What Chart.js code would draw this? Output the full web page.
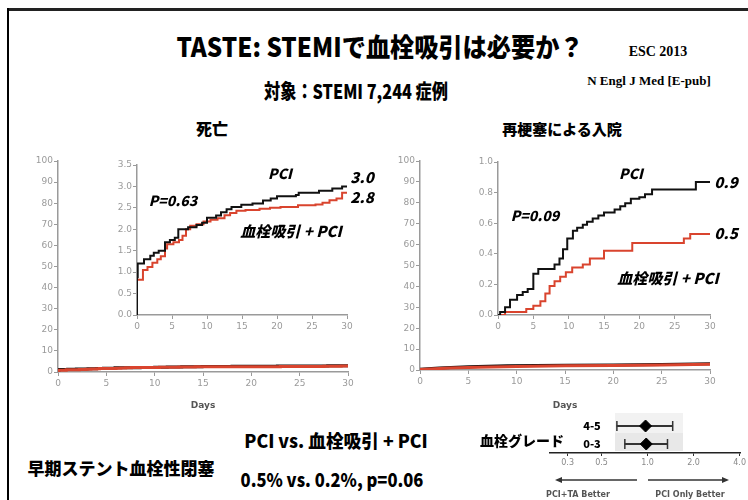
<!DOCTYPE html>
<html><head><meta charset="utf-8">
<script src="https://cdn.jsdelivr.net/npm/chart.js@4.4.1/dist/chart.umd.min.js"></script>
<style>
body{margin:0;background:#fff;}
#slide{position:relative;width:748px;height:500px;overflow:hidden;background:#fff;font-family:'Noto Sans CJK JP',sans-serif;}
.t{position:absolute;white-space:nowrap;transform:translate(-50%,-50%);font-weight:900;color:#000;line-height:1;}
.i{font-style:italic;}
.serif{font-family:'Liberation Serif',serif;font-weight:700;}
canvas{position:absolute;}
.bg{position:absolute;}
</style>
</head><body>
<div id="slide">
  <div class="bg" style="left:8px;top:8px;width:740px;height:3px;background:#222;"></div>
  <div class="bg" style="left:7px;top:8px;width:2px;height:492px;background:#000;"></div>

  <div class="t" style="left:380px;top:46px;font-size:26px;transform:translate(-50%,-50%) scaleX(0.93);">TASTE: STEMIで血栓吸引は必要か？</div>
  <div class="t serif" style="left:658px;top:52px;font-size:14px;">ESC 2013</div>
  <div class="t serif" style="left:649px;top:80px;font-size:13px;">N Engl J Med [E-pub]</div>
  <div class="t" style="left:356px;top:91px;font-size:20px;transform:translate(-50%,-50%) scaleX(0.81);">対象：STEMI 7,244 症例</div>
  <div class="t" style="left:212px;top:128px;font-size:16px;">死亡</div>
  <div class="t" style="left:562px;top:128px;font-size:15px;">再梗塞による入院</div>

  <div class="bg" style="left:615px;top:413px;width:68px;height:20px;background:#f2f2f2;"></div>
  <div class="bg" style="left:615px;top:433px;width:68px;height:18px;background:#e8e8e8;"></div>

  <canvas id="mortMain" width="345" height="265" style="left:20px;top:150px;"></canvas>
  <canvas id="mortInset" width="250" height="185" style="left:105px;top:155px;"></canvas>
  <canvas id="reinfMain" width="345" height="265" style="left:382px;top:150px;"></canvas>
  <canvas id="reinfInset" width="252" height="188" style="left:466px;top:152px;"></canvas>
  <canvas id="forest" width="208" height="62" style="left:540px;top:410px;"></canvas>

  <div class="t i" style="left:280px;top:173px;font-size:14px;">PCI</div>
  <div class="t i" style="left:362px;top:176px;font-size:15px;">3.0</div>
  <div class="t i" style="left:362px;top:196px;font-size:15px;">2.8</div>
  <div class="t i" style="left:173px;top:200px;font-size:14px;">P=0.63</div>
  <div class="t i" style="left:291px;top:230px;font-size:15px;">血栓吸引 + PCI</div>

  <div class="t i" style="left:631px;top:173px;font-size:14px;">PCI</div>
  <div class="t i" style="left:726px;top:181px;font-size:15px;">0.9</div>
  <div class="t i" style="left:726px;top:232px;font-size:15px;">0.5</div>
  <div class="t i" style="left:535px;top:215px;font-size:14px;">P=0.09</div>
  <div class="t i" style="left:668px;top:277px;font-size:15px;">血栓吸引 + PCI</div>

  <div class="t" style="left:121px;top:467px;font-size:17px;">早期ステント血栓性閉塞</div>
  <div class="t" style="left:336px;top:440px;font-size:18px;transform:translate(-50%,-50%) scaleX(0.98);">PCI vs. 血栓吸引 + PCI</div>
  <div class="t" style="left:332px;top:478px;font-size:19px;transform:translate(-50%,-50%) scaleX(0.87);">0.5% vs. 0.2%, p=0.06</div>
  <div class="t" style="left:522px;top:440px;font-size:14px;">血栓グレード</div>
  <div id="rowLabels"></div>

  <svg style="position:absolute;left:0;top:0;" width="748" height="500">
    <line x1="637" y1="480" x2="560" y2="480" stroke="#333" stroke-width="1.5"/>
    <polygon points="555,480 562,477 562,483" fill="#333"/>
    <line x1="648" y1="480" x2="724" y2="480" stroke="#333" stroke-width="1.5"/>
    <polygon points="729,480 722,477 722,483" fill="#333"/>
  </svg>
  <div class="t" style="left:578px;top:495px;font-size:8px;font-weight:700;color:#555;font-family:'DejaVu Sans';">PCI+TA Better</div>
  <div class="t" style="left:690px;top:495px;font-size:8px;font-weight:700;color:#555;font-family:'DejaVu Sans';">PCI Only Better</div>
</div>
<script>
// axis ticks
const dayTicks=[0,5,10,15,20,25,30];
const pctTicks=[0,10,20,30,40,50,60,70,80,90,100];
const mortTicks=[0,0.5,1.0,1.5,2.0,2.5,3.0,3.5];
const reinfTicks=[0,0.2,0.4,0.6,0.8,1.0];
const forestTicks=[0.3,0.5,1.0,2.0,4.0];

// cumulative mortality (%), day vs value
const mortPCI=[[0,0],[0,0.88],[0.1,1.2],[1,1.3],[1.9,1.38],[2.4,1.45],[3.1,1.5],[4,1.7],[4.7,1.75],[5.4,1.8],[5.9,2.0],[7.3,2.05],[8.5,2.1],[9.3,2.15],[10,2.27],[11.3,2.32],[12,2.4],[12.8,2.47],[13.5,2.52],[14.9,2.57],[16.5,2.6],[18,2.67],[19.1,2.72],[20,2.77],[22.7,2.8],[23.1,2.85],[26,2.9],[27.9,2.95],[29.3,3.0],[30,3.02]];
const mortTA=[[0,0],[0,0.82],[0.85,1.05],[1.5,1.12],[2.2,1.22],[2.9,1.3],[3.4,1.37],[4,1.55],[4.3,1.65],[5.2,1.7],[6,1.75],[6.5,1.85],[7,2.0],[7.6,2.08],[8.5,2.12],[9.5,2.18],[10.5,2.22],[11.5,2.26],[12.5,2.33],[13.3,2.38],[14.2,2.43],[15.5,2.45],[17.5,2.48],[19,2.5],[20.5,2.52],[23,2.56],[25.5,2.58],[26.5,2.62],[27.5,2.68],[28.5,2.72],[29.3,2.85],[30,2.85]];

// rehospitalisation for reinfarction (%), inset
const reinfPCI=[[0,0],[0.3,0.02],[1,0.05],[1.7,0.1],[2.7,0.13],[3.5,0.15],[4.2,0.17],[5,0.27],[5.7,0.3],[8,0.33],[8.7,0.37],[9.2,0.43],[9.8,0.5],[10.6,0.55],[11.2,0.57],[12,0.59],[12.6,0.61],[13.4,0.63],[14.2,0.65],[15,0.67],[16.5,0.69],[17.3,0.71],[18,0.73],[18.8,0.76],[20,0.77],[20.8,0.79],[21.8,0.82],[28,0.87],[30,0.87]];
const reinfTA=[[0,0],[1,0.02],[4,0.04],[5,0.06],[6,0.09],[6.7,0.14],[7.3,0.19],[8,0.22],[8.8,0.25],[9.6,0.28],[10.5,0.31],[12,0.33],[13,0.37],[15,0.42],[19,0.47],[26.3,0.5],[27.2,0.53],[30,0.53]];
// full-scale curves of the right main panel
const reinfMainPCI=[[0,0.3],[2,1.0],[5,1.5],[9,2.0],[15,2.3],[20,2.4],[25,2.6],[30,3.0]];
const reinfMainTA=[[0,0.2],[3,0.9],[6,1.3],[10,1.7],[15,2.0],[20,2.2],[25,2.4],[30,2.7]];

// thrombus grade subgroups (hazard ratio, 95% CI)
const rows=['4-5','0-3'];
const hr=[0.97,0.98];
const ciLow=[0.63,0.71];
const ciHigh=[1.46,1.35];

const BLACK='#111', RED='#d9442e', AX='#9a9a9a', TK='#9a9a9a';
const pts=a=>a.map(([x,y])=>({x,y}));

// first series in the list is painted on top
function kmChart(id,o){
  new Chart(document.getElementById(id),{
    type:'line',
    data:{datasets:o.series.map(s=>({data:pts(s.data),borderColor:s.color,borderWidth:o.lw,
      stepped:o.stepped?'before':false,pointRadius:0,fill:false,tension:0}))},
    options:{responsive:false,animation:false,events:[],
      layout:{padding:{left:0,top:o.padT,right:o.padR,bottom:0}},
      plugins:{legend:{display:false},tooltip:{enabled:false}},
      scales:{
        x:{type:'linear',min:0,max:30,
          afterBuildTicks:s=>{s.ticks=dayTicks.map(v=>({value:v}));},
          afterFit:s=>{s.height=o.xH;},
          grid:{drawOnChartArea:false,tickLength:4,color:AX},
          border:{color:AX,width:1.5},
          ticks:{color:TK,font:{family:'DejaVu Sans',size:9},padding:2,maxRotation:0},
          title:{display:!!o.xTitle,text:o.xTitle,color:'#555',font:{family:'DejaVu Sans',size:9,weight:'bold'},padding:{top:4,bottom:4}}},
        y:{type:'linear',min:0,max:o.yMax,
          afterBuildTicks:s=>{s.ticks=o.yTicks.map(v=>({value:v}));},
          afterFit:s=>{s.width=o.yW;},
          grid:{drawOnChartArea:false,tickLength:4,color:AX},
          border:{color:AX,width:1.5},
          ticks:{color:TK,font:{family:'DejaVu Sans',size:9},padding:1,callback:v=>o.dec?v.toFixed(o.dec):v}}
      }}
  });
}

kmChart('mortMain',{series:[{data:mortTA,color:RED},{data:mortPCI,color:BLACK}],lw:3,stepped:true,
  padT:11,padR:17,xH:43,yW:38,yMax:100,yTicks:pctTicks,dec:0,xTitle:'Days'});
kmChart('mortInset',{series:[{data:mortPCI,color:BLACK},{data:mortTA,color:RED}],lw:2,stepped:true,
  padT:10,padR:8,xH:25,yW:32,yMax:3.5,yTicks:mortTicks,dec:1});
kmChart('reinfMain',{series:[{data:reinfMainTA,color:RED},{data:reinfMainPCI,color:BLACK}],lw:3,stepped:false,
  padT:11,padR:17,xH:45,yW:38,yMax:100,yTicks:pctTicks,dec:0,xTitle:'Days'});
kmChart('reinfInset',{series:[{data:reinfPCI,color:BLACK},{data:reinfTA,color:RED}],lw:2,stepped:true,
  padT:10,padR:8,xH:25,yW:32,yMax:1.0,yTicks:reinfTicks,dec:1});

// forest plot
document.getElementById('rowLabels').innerHTML=rows.map((r,i)=>
  `<div class="t" style="left:592px;top:${425+i*18}px;font-size:11px;">${r}</div>`).join('');
new Chart(document.getElementById('forest'),{
  data:{labels:rows,datasets:[
    {type:'line',indexAxis:'y',showLine:false,data:rows.map((r,i)=>({x:hr[i],y:r})),
      pointStyle:'rectRot',pointRadius:6,backgroundColor:'#000',borderColor:'#000'},
    {type:'line',indexAxis:'y',showLine:false,data:rows.flatMap((r,i)=>[{x:ciLow[i],y:r},{x:ciHigh[i],y:r}]),
      pointStyle:'line',rotation:90,pointRadius:5,borderColor:'#333',borderWidth:1.5},
    {type:'bar',indexAxis:'y',data:rows.map((r,i)=>[ciLow[i],ciHigh[i]]),backgroundColor:'#333',barThickness:1.5}
  ]},
  options:{responsive:false,animation:false,events:[],
    layout:{padding:{left:10,top:5,right:6,bottom:0}},
    plugins:{legend:{display:false},tooltip:{enabled:false}},
    scales:{
      x:{type:'logarithmic',min:0.23,max:4.05,
        afterBuildTicks:s=>{s.ticks=forestTicks.map(v=>({value:v}));},
        afterFit:s=>{s.height=19;},
        grid:{drawOnChartArea:false,tickLength:3,color:'#333'},
        border:{color:'#222',width:1.5},
        ticks:{color:'#888',font:{family:'DejaVu Sans',size:8},padding:2,callback:v=>v.toFixed(1)}},
      y:{type:'category',labels:rows,offset:true,display:false}
    }}
});
</script>
</body></html>
